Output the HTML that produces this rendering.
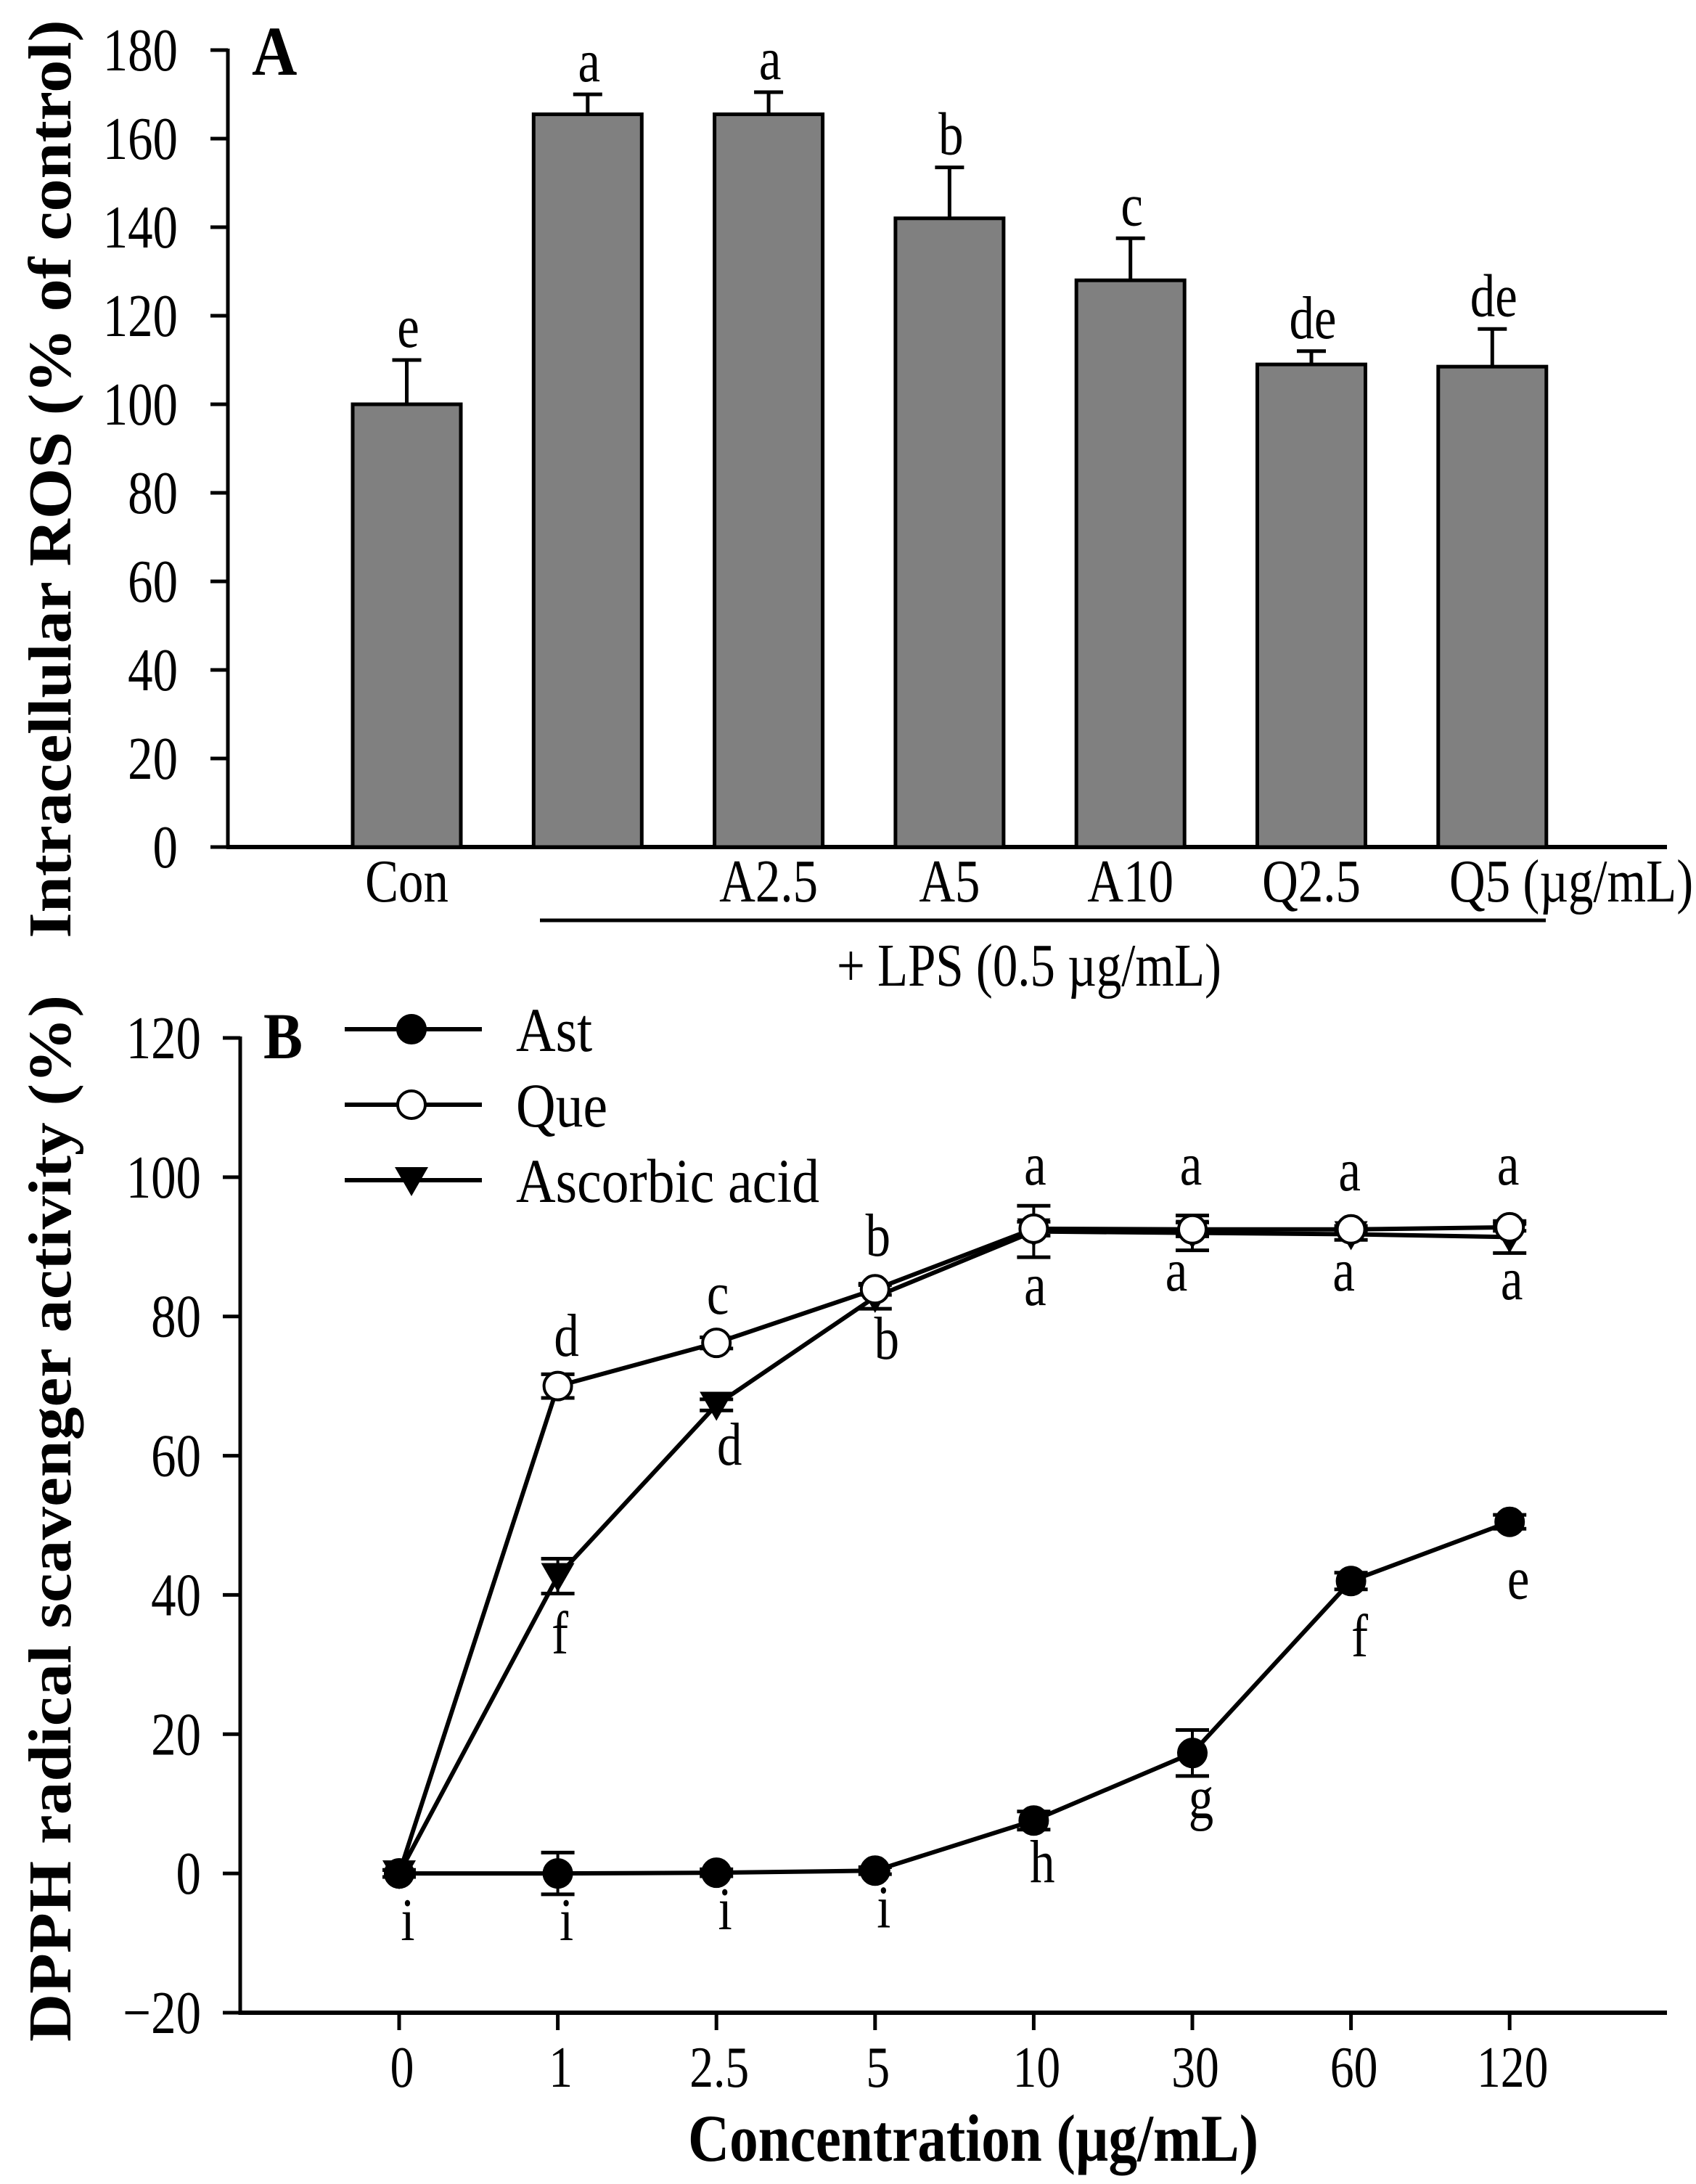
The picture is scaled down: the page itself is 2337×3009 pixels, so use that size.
<!DOCTYPE html>
<html><head><meta charset="utf-8"><style>
html,body{margin:0;padding:0;background:#fff}
svg{display:block}
text{font-family:"Liberation Serif",serif;fill:#000}
</style></head><body>
<svg id="fig" width="2337" height="3009" viewBox="0 0 2337 3009" xmlns="http://www.w3.org/2000/svg"></svg>
<script>
// Panel A data
const aCategories = ["Con", "", "A2.5", "A5", "A10", "Q2.5", "Q5"];
const aValues = [100, 165.5, 165.5, 142, 128, 109, 108.5];
const aErrTop = [110, 170, 170.5, 153.5, 137.5, 112, 117];
const aLetters = ["e", "a", "a", "b", "c", "de", "de"];
const aTicks = [0, 20, 40, 60, 80, 100, 120, 140, 160, 180];
// Panel B data
const bCategories = ["0", "1", "2.5", "5", "10", "30", "60", "120"];
const astValues = [0, 0, 0.1, 0.4, 7.6, 17.3, 42, 50.5];
const astErr = [0.5, 3, 0.5, 0.5, 1.3, 3.3, 1.2, 1.0];
const queValues = [0, 70, 76.2, 83.9, 92.6, 92.5, 92.5, 92.8];
const queErr = [0.5, 1.7, 0.8, 0.8, 1.0, 1.0, 0.5, 0.5];
const ascValues = [0, 42.7, 67.3, 82.8, 92.2, 92.0, 91.8, 91.4];
const ascErr = [0.5, 2.5, 0.8, 1.7, 3.7, 2.5, 0.8, 2.3];
const astLetters = ["i", "i", "i", "i", "h", "g", "f", "e"];
const queLetters = ["", "d", "c", "b", "a", "a", "a", "a"];
const ascLetters = ["", "f", "d", "b", "a", "a", "a", "a"];
const bTicks = [-20, 0, 20, 40, 60, 80, 100, 120];

const NS = "http://www.w3.org/2000/svg";
const svg = document.getElementById("fig");
const SX = 0.82;
function el(tag, attrs, parent) {
  const e = document.createElementNS(NS, tag);
  for (const k in attrs) e.setAttribute(k, attrs[k]);
  (parent || svg).appendChild(e);
  return e;
}
function txt(s, x, y, size, anchor, sx, bold, parent, name) {
  const t = el("text", {x: 0, y: 0, "font-size": size, "text-anchor": anchor,
    transform: "translate(" + x + "," + y + ") scale(" + sx + ",1)"}, parent);
  if (bold) t.setAttribute("font-weight", "bold");
  t.textContent = s;
  
  
  return t;
}
function line(x1, y1, x2, y2, w, parent, name) {
  const l = el("line", {x1: x1, y1: y1, x2: x2, y2: y2, stroke: "#000", "stroke-width": w}, parent);
  
  
  return l;
}

// ---------- Panel A ----------
const gA = el("g", {});


const aAxisX = 314, aY0 = 1167, aY180 = 69;
const ay = v => aY0 - (aY0 - aY180) * v / 180;
const barLeft0 = 486, barStep = 249.3, barW = 149;
const ax = i => barLeft0 + i * barStep + barW / 2;

line(aAxisX, aY180 - 2, aAxisX, aY0 + 2, 5, gA, "y-axis-a");
line(aAxisX - 2, aY0, 2297, aY0, 6, gA, "x-axis-a");
aTicks.forEach(v => {
  line(aAxisX - 24, ay(v), aAxisX, ay(v), 5, gA, "y-tick-a");
  txt(String(v), 245, ay(v) + 28, 84, "end", SX, false, gA, "y-tick-label-a");
});
aValues.forEach((v, i) => {
  const cx = ax(i);
  line(cx, ay(v), cx, ay(aErrTop[i]), 5, gA, "error-bar-a");
  line(cx - 20, ay(aErrTop[i]), cx + 20, ay(aErrTop[i]), 5, gA, "error-cap-a");
  const r = el("rect", {x: cx - barW / 2, y: ay(v), width: barW, height: aY0 - ay(v),
    fill: "#808080", stroke: "#000", "stroke-width": 5}, gA);
  
  
  txt(aLetters[i], cx + 2, ay(aErrTop[i]) - 18, 84, "middle", SX, false, gA, "significance-letter-a");
  if (aCategories[i] && aCategories[i] !== "Q5")
    txt(aCategories[i], cx, 1242, 84, "middle", SX, false, gA, "x-tick-label-a");
});
txt("Q5 (\u00b5g/mL)", 1997, 1242, 84, "start", SX, false, gA, "x-tick-label-q5");
line(744, 1268, 2130, 1268, 5, gA, "lps-bracket-line");
txt("+ LPS (0.5 \u00b5g/mL)", 1153, 1358, 84, "start", SX, false, gA, "lps-label");
txt("A", 347, 103, 96, "start", 0.9, true, gA, "panel-label-a");
const tA = el("text", {x: 0, y: 0, "font-size": 84, "font-weight": "bold", "text-anchor": "middle",
  textLength: 1265, lengthAdjust: "spacingAndGlyphs", transform: "translate(97,660) rotate(-90)"}, gA);
tA.textContent = "Intracellular ROS (% of control)";



// ---------- Panel B ----------
const gB = el("g", {});


const bAxisX = 331, bY120 = 1430, bYm20 = 2773;
const by = v => bYm20 - (bYm20 - bY120) * (v + 20) / 140;
const bx = i => 550 + i * 218.6;

line(bAxisX, bY120 - 2, bAxisX, bYm20 + 3, 5, gB, "y-axis-b");
line(bAxisX - 2, bYm20, 2297, bYm20, 6, gB, "x-axis-b");
bTicks.forEach(v => {
  line(bAxisX - 24, by(v), bAxisX, by(v), 5, gB, "y-tick-b");
  txt(v < 0 ? "\u2212" + Math.abs(v) : String(v), 277, by(v) + 28, 84, "end", SX, false, gB, "y-tick-label-b");
});
bCategories.forEach((c, i) => {
  line(bx(i), bYm20, bx(i), bYm20 + 24, 5, gB, "x-tick-b");
  txt(c, bx(i) + 4, 2875, 80, "middle", SX, false, gB, "x-tick-label-b");
});
txt("Concentration (\u00b5g/mL)", 1341, 2977, 92, "middle", 0.86, true, gB, "x-axis-title-b");
const tB = el("text", {x: 0, y: 0, "font-size": 84, "font-weight": "bold", "text-anchor": "middle",
  textLength: 1442, lengthAdjust: "spacingAndGlyphs", transform: "translate(97,2092) rotate(-90)"}, gB);
tB.textContent = "DPPH radical scavenger activity (%)";


txt("B", 363, 1458, 90, "start", 0.9, true, gB, "panel-label-b");

function marker(kind, x, y, parent) {
  let m;
  if (kind === "tri") {
    m = el("polygon", {points: (x - 23) + "," + (y - 18) + " " + (x + 23) + "," + (y - 18) + " " + x + "," + (y + 22), fill: "#000"}, parent);
  } else {
    m = el("circle", {cx: x, cy: y, r: 19, fill: kind === "open" ? "#fff" : "#000", stroke: "#000", "stroke-width": 4}, parent);
  }
  
  
}
function series(vals, errs, kind, name) {
  const g = el("g", {}, gB);
  
  
  const p = el("polyline", {points: vals.map((v, i) => bx(i) + "," + by(v)).join(" "),
    fill: "none", stroke: "#000", "stroke-width": 6}, g);
  
  
  vals.forEach((v, i) => {
    const x = bx(i);
    line(x, by(v - errs[i]), x, by(v + errs[i]), 4, g, name + "-error-bar");
    line(x - 23, by(v + errs[i]), x + 23, by(v + errs[i]), 5, g, name + "-error-cap");
    line(x - 23, by(v - errs[i]), x + 23, by(v - errs[i]), 5, g, name + "-error-cap");
    marker(kind, x, by(v), g);
  });
}
series(ascValues, ascErr, "tri", "series-ascorbic-acid");
series(queValues, queErr, "open", "series-que");
series(astValues, astErr, "filled", "series-ast");

astLetters.forEach((s, i) => {
  const offs = [72, 72, 58, 58, 65, 70, 84, 86];
  txt(s, bx(i) + 12, by(astValues[i]) + offs[i] + 20, 84, "middle", SX, false, gB, "ast-letter");
});
queLetters.forEach((s, i) => {
  if (!s) return;
  const ys = [0, 1868, 1810, 1730, 1632, 1632, 1640, 1632];
  txt(s, bx(i) + [0, 12, 2, 4, 2, -2, -2, -2][i], ys[i], 84, "middle", SX, false, gB, "que-letter");
});
ascLetters.forEach((s, i) => {
  if (!s) return;
  const ys = [0, 2278, 2018, 1872, 1798, 1778, 1778, 1790];
  txt(s, bx(i) + [0, 3, 18, 16, 2, -22, -10, 3][i], ys[i], 84, "middle", SX, false, gB, "ascorbic-letter");
});

// legend
const legNames = ["Ast", "Que", "Ascorbic acid"];
const legKinds = ["filled", "open", "tri"];
legNames.forEach((n, i) => {
  const g = el("g", {}, gB);
  
  
  const y = 1418 + i * 104;
  line(475, y, 664, y, 6, g, "legend-line");
  marker(legKinds[i], 567, y, g);
  txt(n, 711, y + 30, 86, "start", 0.88, false, g, "legend-label");
});
</script>
</body></html>
